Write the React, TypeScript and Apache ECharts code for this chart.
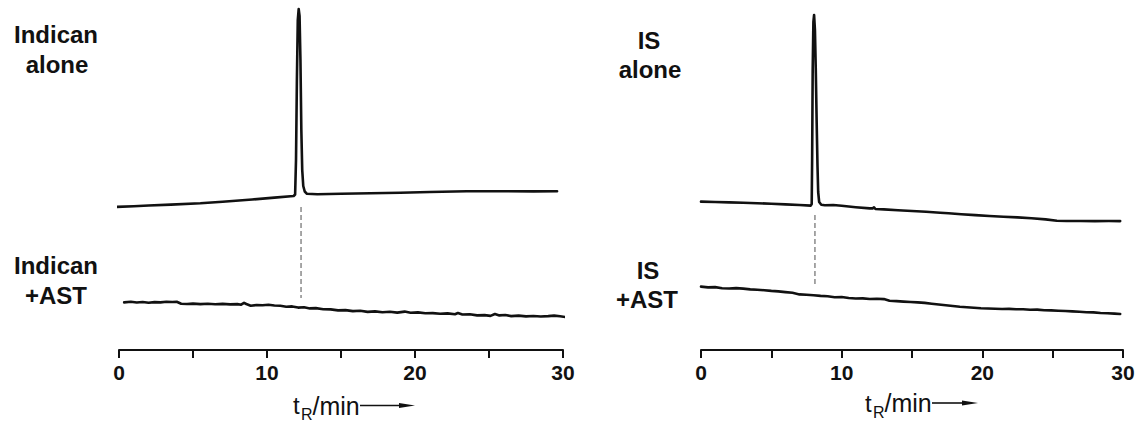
import React, { useEffect, useRef } from "react";
import * as echarts from "echarts";

// Retention time (min) vs. detector response (a.u., traces offset vertically)
const indicanAlone: [number, number][] = [
  [-0.4, 143.0], [1.0, 143.8], [2.0, 144.5], [3.5, 145.4], [5.5, 146.7], [7.0, 148.2],
  [9.0, 150.5], [10.5, 152.4], [11.8, 154.0], [11.9, 155.5], [11.96, 190], [12.02, 270],
  [12.08, 330], [12.14, 341], [12.2, 334], [12.26, 290], [12.32, 220], [12.38, 180],
  [12.45, 164], [12.55, 158.5], [12.7, 156.2], [13.4, 155.7], [15.0, 156.2], [17.0, 156.8],
  [19.0, 157.3], [21.0, 158.0], [23.5, 158.7], [26.0, 158.7], [28.0, 158.6], [29.6, 158.8],
];

const indicanAst: [number, number][] = [
  [0.35, 47.6], [0.8, 48.2], [1.2, 47.5], [1.6, 48.0], [2.0, 47.3], [2.4, 47.9], [2.8, 47.6],
  [3.2, 48.3], [3.6, 48.0], [3.9, 48.3], [4.2, 46.3], [4.6, 46.0], [5.0, 46.4], [5.5, 45.9],
  [6.0, 46.2], [6.5, 45.8], [7.0, 46.1], [7.5, 45.6], [8.0, 45.9], [8.25, 45.3], [8.45, 47.2],
  [8.6, 46.0], [8.9, 44.3], [9.3, 45.0], [9.7, 44.8], [10.1, 45.2], [10.5, 44.5], [10.9, 44.2],
  [11.3, 43.3], [11.7, 43.6], [12.1, 42.4], [12.5, 42.8], [12.9, 41.6], [13.3, 41.9],
  [13.8, 40.8], [14.3, 40.6], [14.8, 39.6], [15.3, 39.9], [15.8, 38.9], [16.3, 39.2],
  [16.8, 38.1], [17.3, 38.6], [17.8, 37.8], [18.3, 38.2], [18.8, 37.4], [19.3, 38.4],
  [19.7, 37.2], [20.2, 37.6], [20.7, 36.7], [21.2, 36.9], [21.7, 36.2], [22.2, 36.6],
  [22.7, 35.8], [22.9, 37.0], [23.2, 35.5], [23.7, 35.8], [24.2, 34.6], [24.7, 34.9],
  [25.1, 34.1], [25.4, 36.0], [25.7, 34.6], [26.1, 35.0], [26.5, 33.9], [27.0, 34.4],
  [27.5, 33.6], [28.0, 34.0], [28.5, 33.5], [29.0, 33.9], [29.4, 34.4], [29.8, 33.7],
  [30.25, 32.8],
];

const isAlone: [number, number][] = [
  [0.0, 148.4], [1.0, 148.0], [2.0, 147.6], [3.0, 147.2], [4.0, 146.8], [5.0, 146.2],
  [6.0, 145.6], [7.0, 145.0], [7.8, 144.4], [7.87, 146], [7.9, 190], [7.94, 280],
  [7.99, 328], [8.04, 335], [8.1, 320], [8.16, 280], [8.22, 230], [8.28, 185],
  [8.33, 158], [8.4, 148], [8.55, 145.2], [8.8, 144.8], [9.4, 145.0], [10.0, 144.2],
  [11.0, 142.8], [12.0, 141.6], [12.2, 141.6], [12.3, 142.6], [12.4, 141.0], [13.0, 140.6],
  [14.0, 139.8], [15.0, 139.0], [16.0, 138.2], [17.0, 137.3], [17.6, 136.8], [18.5, 135.8],
  [19.5, 134.9], [20.5, 134.0], [21.5, 133.2], [22.5, 132.6], [23.5, 131.7], [24.5, 130.6],
  [25.3, 129.3], [26.0, 129.0], [27.0, 129.0], [28.0, 128.9], [29.0, 129.0], [29.8, 128.9],
];

const isAst: [number, number][] = [
  [0.0, 63.4], [0.5, 62.6], [1.0, 62.9], [1.5, 61.8], [2.0, 61.5], [2.5, 61.9], [3.0, 61.4],
  [3.5, 60.6], [4.0, 60.2], [4.5, 59.8], [5.0, 59.1], [5.5, 58.6], [6.0, 57.9], [6.5, 57.2],
  [7.0, 55.6], [7.5, 55.3], [8.0, 54.7], [8.5, 54.1], [9.0, 53.7], [9.5, 52.8], [10.0, 53.0],
  [10.5, 52.0], [11.0, 51.5], [11.5, 51.6], [12.0, 51.0], [12.5, 51.3], [13.0, 50.9],
  [13.4, 49.2], [13.9, 48.9], [14.4, 48.4], [14.9, 48.0], [15.4, 47.6], [15.9, 47.1],
  [16.4, 46.3], [16.9, 45.5], [17.4, 44.8], [17.9, 44.0], [18.4, 43.2], [18.9, 42.7],
  [19.4, 42.3], [19.9, 41.8], [20.4, 41.5], [20.9, 41.3], [21.4, 41.0], [21.9, 41.1],
  [22.4, 40.7], [22.9, 40.8], [23.4, 40.2], [23.9, 40.4], [24.4, 39.8], [24.9, 39.6],
  [25.4, 39.3], [25.9, 39.0], [26.4, 38.6], [26.9, 38.3], [27.4, 37.8], [27.9, 37.6],
  [28.4, 37.0], [28.9, 36.8], [29.4, 36.4], [29.8, 36.0],
];

// Retention-time guides linking the peak to the co-incubated trace
const indicanGuide: [number, number][] = [[12.3, 143], [12.3, 52]];
const isGuide: [number, number][] = [[8.1, 135], [8.1, 63]];

const tickLabels = [0, 10, 20, 30];
const panelLabels = [
  ["Indican", "alone", "Indican", "+AST"],
  ["IS", "alone", "IS", "+AST"],
];

const FONT = "'Liberation Sans', Arial, Helvetica, sans-serif";
const INK = "#111";

function traceSeries(data: [number, number][], idx: number) {
  return {
    type: "line",
    xAxisIndex: idx,
    yAxisIndex: idx,
    data,
    symbol: "none",
    clip: false,
    silent: true,
    lineStyle: { color: INK, width: 2.6, join: "round", cap: "round" },
  };
}

function guideSeries(data: [number, number][], idx: number) {
  return {
    type: "line",
    xAxisIndex: idx,
    yAxisIndex: idx,
    data,
    symbol: "none",
    clip: false,
    silent: true,
    lineStyle: { color: "#8a8a8a", width: 1.5, type: [5, 3] },
  };
}

function xAxisFor(idx: number) {
  return {
    type: "value",
    gridIndex: idx,
    min: 0,
    max: 30,
    interval: 5,
    axisLine: { show: true, lineStyle: { color: INK, width: 2 } },
    axisTick: { show: true, length: 8, lineStyle: { color: INK, width: 2 } },
    splitLine: { show: false },
    axisLabel: {
      margin: 12,
      fontFamily: FONT,
      fontSize: 21,
      fontWeight: "bold",
      color: INK,
      formatter: (v: number) => (tickLabels.includes(v) ? String(v) : ""),
    },
  };
}

function yAxisFor(idx: number) {
  return { type: "value", gridIndex: idx, min: 0, max: 350, show: false };
}

function labelText(text: string, x: number, y: number) {
  return {
    type: "text",
    x,
    y,
    silent: true,
    style: {
      text,
      fill: INK,
      font: `bold 24px ${FONT}`,
      align: "center",
      verticalAlign: "middle",
    },
  };
}

function axisTitle(x: number, y: number, arrowEnd: number) {
  return {
    type: "group",
    silent: true,
    children: [
      {
        type: "text",
        x,
        y,
        style: { text: "t", fill: INK, font: `24px ${FONT}`, align: "left", verticalAlign: "middle" },
      },
      {
        type: "text",
        x: x + 8,
        y: y + 9,
        style: { text: "R", fill: INK, font: `16px ${FONT}`, align: "left", verticalAlign: "middle" },
      },
      {
        type: "text",
        x: x + 19.5,
        y,
        style: { text: "/min", fill: INK, font: `25px ${FONT}`, align: "left", verticalAlign: "middle" },
      },
      {
        type: "line",
        shape: { x1: x + 67, y1: y, x2: arrowEnd - 14, y2: y },
        style: { stroke: INK, lineWidth: 1.6 },
      },
      {
        type: "polygon",
        shape: { points: [[arrowEnd - 16, y - 2.6], [arrowEnd, y], [arrowEnd - 16, y + 2.6]] },
        style: { fill: INK },
      },
    ],
  };
}

export default function App() {
  const ref = useRef<HTMLDivElement>(null);

  useEffect(() => {
    if (!ref.current) return;
    const chart = echarts.init(ref.current, undefined, { renderer: "svg" });
    const [L, R] = panelLabels;
    chart.setOption({
      animation: false,
      backgroundColor: "#fff",
      grid: [
        { left: 119, right: 576, top: 0, bottom: 73 },
        { left: 701, right: 16, top: 0, bottom: 73 },
      ],
      xAxis: [xAxisFor(0), xAxisFor(1)],
      yAxis: [yAxisFor(0), yAxisFor(1)],
      series: [
        guideSeries(indicanGuide, 0),
        traceSeries(indicanAlone, 0),
        traceSeries(indicanAst, 0),
        guideSeries(isGuide, 1),
        traceSeries(isAlone, 1),
        traceSeries(isAst, 1),
      ],
      graphic: [
        labelText(L[0], 56, 34),
        labelText(L[1], 57, 64),
        labelText(L[2], 56, 265),
        labelText(L[3], 56, 295),
        labelText(R[0], 649, 40),
        labelText(R[1], 650, 69),
        labelText(R[2], 648, 270),
        labelText(R[3], 647, 299),
        axisTitle(293, 405.5, 415),
        axisTitle(865, 403, 978),
      ],
    });
    return () => chart.dispose();
  }, []);

  return (
    <div
      ref={ref}
      style={{ position: "fixed", left: 0, top: 0, width: 1139, height: 423, background: "#fff" }}
    />
  );
}
